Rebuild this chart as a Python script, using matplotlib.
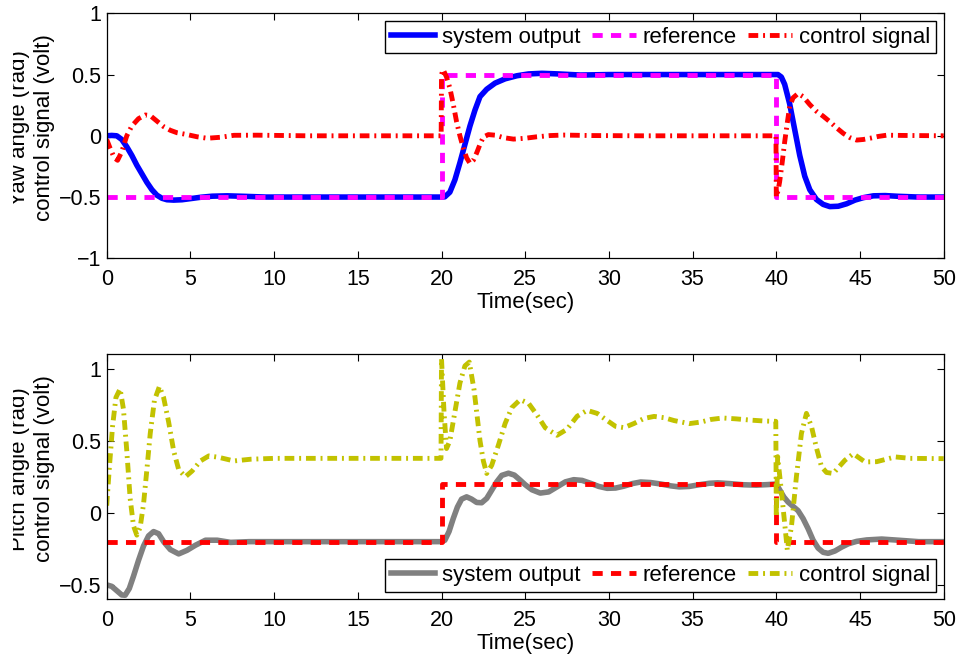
import matplotlib
matplotlib.use("Agg")
import matplotlib.pyplot as plt
from matplotlib.transforms import Bbox, TransformedBbox

plt.rcParams['font.family'] = ['Liberation Sans', 'DejaVu Sans']
plt.rcParams['axes.unicode_minus'] = True

# ---------------- yaw channel ----------------
yaw_ref_t = [0, 20, 20, 40, 40, 50]
yaw_ref_v = [-0.5, -0.5, 0.5, 0.5, -0.5, -0.5]

yaw_out_t = [0, 0.3, 0.6, 0.9, 1.2, 1.5, 1.8, 2.1, 2.4, 2.7, 3.0, 3.3, 3.6, 4.0, 4.5,
             5.0, 5.6, 6.3, 7.2, 8.2, 9.5, 12, 15, 18, 20.0, 20.2, 20.5, 20.8, 21.1,
             21.4, 21.7, 22.0, 22.3, 22.7, 23.2, 23.8, 24.5, 25.2, 26.0, 27.0, 28.3,
             30, 33, 36, 39, 40.1, 40.3, 40.5, 40.8, 41.1, 41.4, 41.7, 42.0, 42.4,
             42.8, 43.2, 43.7, 44.2, 44.7, 45.2, 45.8, 46.5, 47.3, 48.5, 50]
yaw_out_v = [0, 0.003, 0.0, -0.03, -0.09, -0.16, -0.24, -0.31, -0.38, -0.44, -0.485,
             -0.51, -0.522, -0.525, -0.522, -0.513, -0.502, -0.493, -0.49, -0.494,
             -0.5, -0.5, -0.5, -0.5, -0.5, -0.498, -0.46, -0.36, -0.22, -0.07, 0.08,
             0.21, 0.32, 0.38, 0.43, 0.465, 0.49, 0.505, 0.51, 0.505, 0.496, 0.5, 0.5,
             0.5, 0.5, 0.5, 0.48, 0.42, 0.26, 0.05, -0.16, -0.33, -0.44, -0.52, -0.56,
             -0.578, -0.575, -0.555, -0.525, -0.505, -0.49, -0.488, -0.494, -0.5, -0.5]

yaw_u_t = [0, 0.2, 0.45, 0.65, 0.9, 1.2, 1.5, 1.9, 2.3, 2.6, 3.0, 3.4, 3.8, 4.2, 4.8,
           5.4, 6.0, 6.8, 7.6, 9, 12, 16, 19.98, 20.0, 20.1, 20.3, 20.5, 20.7, 20.9,
           21.1, 21.3, 21.5, 21.7, 21.9, 22.1, 22.3, 22.5, 22.8, 23.2, 23.7, 24.3,
           25.0, 25.7, 26.5, 27.3, 29, 32, 36, 39.98, 40.0, 40.1, 40.2, 40.35, 40.5,
           40.65, 40.8, 41.0, 41.3, 41.6, 42.0, 42.4, 42.8, 43.2, 43.6, 44.0, 44.4,
           44.8, 45.2, 45.6, 46.1, 46.6, 47.5, 50]
yaw_u_v = [-0.03, -0.1, -0.18, -0.2, -0.13, 0.0, 0.08, 0.14, 0.17, 0.165, 0.12, 0.075,
           0.045, 0.025, 0.01, -0.008, -0.02, -0.012, 0.004, 0.005, 0, 0, 0, 0.5, 0.54,
           0.48, 0.39, 0.26, 0.115, 0.0, -0.1, -0.18, -0.225, -0.2, -0.14, -0.07,
           -0.01, 0.01, 0.005, -0.015, -0.027, -0.02, -0.008, 0.002, 0.006, 0.002, 0,
           0, 0, -0.5, -0.45, -0.375, -0.22, -0.05, 0.1, 0.24, 0.31, 0.345, 0.32,
           0.255, 0.2, 0.16, 0.115, 0.065, 0.02, -0.015, -0.035, -0.03, -0.02, -0.005,
           0.005, 0.003, 0]

# ---------------- pitch channel ----------------
pitch_ref_t = [0, 20, 20, 40, 40, 50]
pitch_ref_v = [-0.2, -0.2, 0.2, 0.2, -0.2, -0.2]

pitch_out_t = [0, 0.3, 0.6, 0.9, 1.1, 1.35, 1.6, 1.9, 2.2, 2.5, 2.8, 3.1, 3.4, 3.8,
               4.3, 4.8, 5.3, 5.9, 6.6, 7.4, 8.5, 10, 15,
               20.0, 20.2, 20.45, 20.7, 20.95, 21.2, 21.5, 21.8, 22.1, 22.4, 22.7,
               23.0, 23.3, 23.6, 24.0, 24.35, 24.7, 25.0, 25.4, 25.9, 26.4, 26.9,
               27.4, 27.9, 28.4, 28.9, 29.4, 29.9, 30.4, 30.9, 31.4, 31.9, 32.5, 33.1,
               33.7, 34.2, 34.8, 35.4, 36.0, 36.5, 37.2, 38.0, 38.8, 39.5,
               40.0, 40.2, 40.45, 40.7, 41.0, 41.3, 41.6, 41.9, 42.2, 42.5, 42.8, 43.1,
               43.5, 43.9, 44.3, 44.8, 45.4, 46.3, 47.3, 48.5, 50]
pitch_out_v = [-0.5, -0.51, -0.54, -0.57, -0.572, -0.525, -0.44, -0.33, -0.23, -0.16,
               -0.13, -0.145, -0.2, -0.255, -0.285, -0.26, -0.225, -0.19, -0.19, -0.205,
               -0.2, -0.2, -0.2,
               -0.2, -0.19, -0.13, -0.04, 0.04, 0.095, 0.111, 0.095, 0.072, 0.07, 0.1,
               0.157, 0.215, 0.26, 0.275, 0.262, 0.227, 0.195, 0.16, 0.137, 0.145,
               0.18, 0.215, 0.23, 0.225, 0.205, 0.183, 0.17, 0.172, 0.185, 0.203,
               0.214, 0.21, 0.2, 0.187, 0.18, 0.183, 0.195, 0.205, 0.208, 0.203, 0.195,
               0.192, 0.196,
               0.2, 0.16, 0.11, 0.075, 0.045, 0.015, -0.04, -0.11, -0.19, -0.245,
               -0.274, -0.281, -0.265, -0.238, -0.215, -0.198, -0.188, -0.182, -0.19,
               -0.2, -0.2]

pitch_u_t = [0, 0.15, 0.35, 0.55, 0.8, 1.0, 1.2, 1.4, 1.6, 1.8, 2.0, 2.2, 2.4, 2.6,
             2.85, 3.15, 3.4, 3.7, 4.0, 4.3, 4.7, 5.1, 5.6, 6.1, 6.7, 7.6, 8.6, 10, 15,
             19.97, 20.0, 20.15, 20.3, 20.5, 20.8, 21.1, 21.4, 21.66, 21.95, 22.3,
             22.5, 22.7, 23.0, 23.4, 23.8, 24.2, 24.7, 25.2, 25.7, 26.2, 26.9, 27.5,
             28.1, 28.7, 29.3, 29.9, 30.4, 30.9, 31.5, 32.1, 32.7, 33.3, 33.9, 34.8,
             35.5, 36.1, 36.8, 37.6, 38.5, 39.3, 39.97,
             40.0, 40.08, 40.35, 40.66, 40.9, 41.2, 41.5, 41.8, 42.1, 42.4, 42.7, 43.0,
             43.4, 43.75, 44.1, 44.6, 45.3, 46.0, 47.1, 48.0, 50]
pitch_u_v = [0.05, 0.3, 0.6, 0.8, 0.86, 0.72, 0.43, 0.1, -0.09, -0.155, -0.1, 0.06, 0.3,
             0.55, 0.78, 0.877, 0.8, 0.63, 0.43, 0.3, 0.25, 0.29, 0.36, 0.395, 0.385,
             0.36, 0.372, 0.378, 0.378, 0.378, 1.07, 0.7, 0.446, 0.5, 0.7, 0.9, 1.02,
             1.046, 0.85, 0.5, 0.36, 0.273, 0.33, 0.47, 0.62, 0.73, 0.785, 0.76, 0.68,
             0.59, 0.538, 0.58, 0.67, 0.711, 0.69, 0.64, 0.6, 0.591, 0.62, 0.655,
             0.669, 0.66, 0.64, 0.619, 0.63, 0.648, 0.658, 0.652, 0.643, 0.637, 0.635,
             -0.03, 0.39, 0.1, -0.26, -0.1, 0.25, 0.55, 0.69, 0.6, 0.45, 0.32, 0.28,
             0.273, 0.32, 0.365, 0.41, 0.353, 0.355, 0.388, 0.378, 0.376]

x_ticks = [0, 5, 10, 15, 20, 25, 30, 35, 40, 45, 50]
x_ticklabels = ['0', '5', '10', '15', '20', '25', '30', '35', '40', '45', '50']
yaw_yticks = [-1, -0.5, 0, 0.5, 1]
yaw_yticklabels = ['\u22121', '\u22120.5', '0', '0.5', '1']
pitch_yticks = [-0.5, 0, 0.5, 1]
pitch_yticklabels = ['\u22120.5', '0', '0.5', '1']
legend_labels = ['system output', 'reference', 'control signal']

W, H = 962, 658
fig = plt.figure(figsize=(W / 100, H / 100), dpi=100)

def px_axes(left, top, right, bottom):
    return fig.add_axes([left / W, 1 - bottom / H, (right - left) / W, (bottom - top) / H])

ax1 = px_axes(106.7, 13.3, 943.7, 258.3)
ax2 = px_axes(106.7, 354.3, 943.7, 599.3)

dash = (0, (2.1, 1.7))
dashdot = (0, (2.0, 1.0, 0.4, 1.0))

ax1.plot(yaw_out_t, yaw_out_v, color=(0, 0, 1), lw=4.0, solid_joinstyle='round',
         label=legend_labels[0])
ax1.plot(yaw_ref_t, yaw_ref_v, color=(1, 0, 1), lw=3.5, linestyle=dash,
         label=legend_labels[1])
ax1.plot(yaw_u_t, yaw_u_v, color=(1, 0, 0), lw=3.5, linestyle=dashdot,
         label=legend_labels[2])

ax2.plot(pitch_out_t, pitch_out_v, color=(0.5, 0.5, 0.5), lw=4.0,
         solid_joinstyle='round', label=legend_labels[0])
ax2.plot(pitch_ref_t, pitch_ref_v, color=(1, 0, 0), lw=3.5, linestyle=dash,
         label=legend_labels[1])
ax2.plot(pitch_u_t, pitch_u_v, color=(0.76, 0.76, 0), lw=3.5, linestyle=dashdot,
         label=legend_labels[2])

ax1.set_ylim(-1, 1)
ax2.set_ylim(-0.6, 1.1)
ax1.set_yticks(yaw_yticks)
ax1.set_yticklabels(yaw_yticklabels)
ax2.set_yticks(pitch_yticks)
ax2.set_yticklabels(pitch_yticklabels)

# the page margin trims the outer line of each axis title
label_clip = TransformedBbox(Bbox([[13 / W, 0], [1, 1]]), fig.transFigure)

for ax, loc, ylab in [(ax1, 'upper right', 'Yaw angle (rad)\ncontrol signal (volt)'),
                      (ax2, 'lower right', 'Pitch angle (rad)\ncontrol signal (volt)')]:
    ax.set_xlim(0, 50)
    ax.set_xticks(x_ticks)
    ax.set_xticklabels(x_ticklabels)
    ax.tick_params(direction='in', top=True, right=True, length=5, width=0.8,
                   labelsize=15.5, colors='black')
    ax.tick_params(axis='x', pad=8)
    ax.tick_params(axis='y', pad=4)
    for s in ax.spines.values():
        s.set_linewidth(0.9)
    ax.set_xlabel('Time(sec)', fontsize=16, labelpad=1.5)
    ax.set_ylabel(ylab, fontsize=16, linespacing=1.25)
    ax.yaxis.set_label_coords(-0.0615, 0.533)
    ax.yaxis.label.set_clip_box(label_clip)
    ax.yaxis.label.set_clip_on(True)
    leg = ax.legend(loc=loc, ncol=3, fontsize=16, frameon=True, fancybox=False,
                    framealpha=1, edgecolor='black', handlelength=2.0,
                    handletextpad=0.3, columnspacing=0.5, borderpad=0.25,
                    borderaxespad=0.35)
    leg.get_frame().set_linewidth(1.0)

fig.savefig('out.png', dpi=100)
